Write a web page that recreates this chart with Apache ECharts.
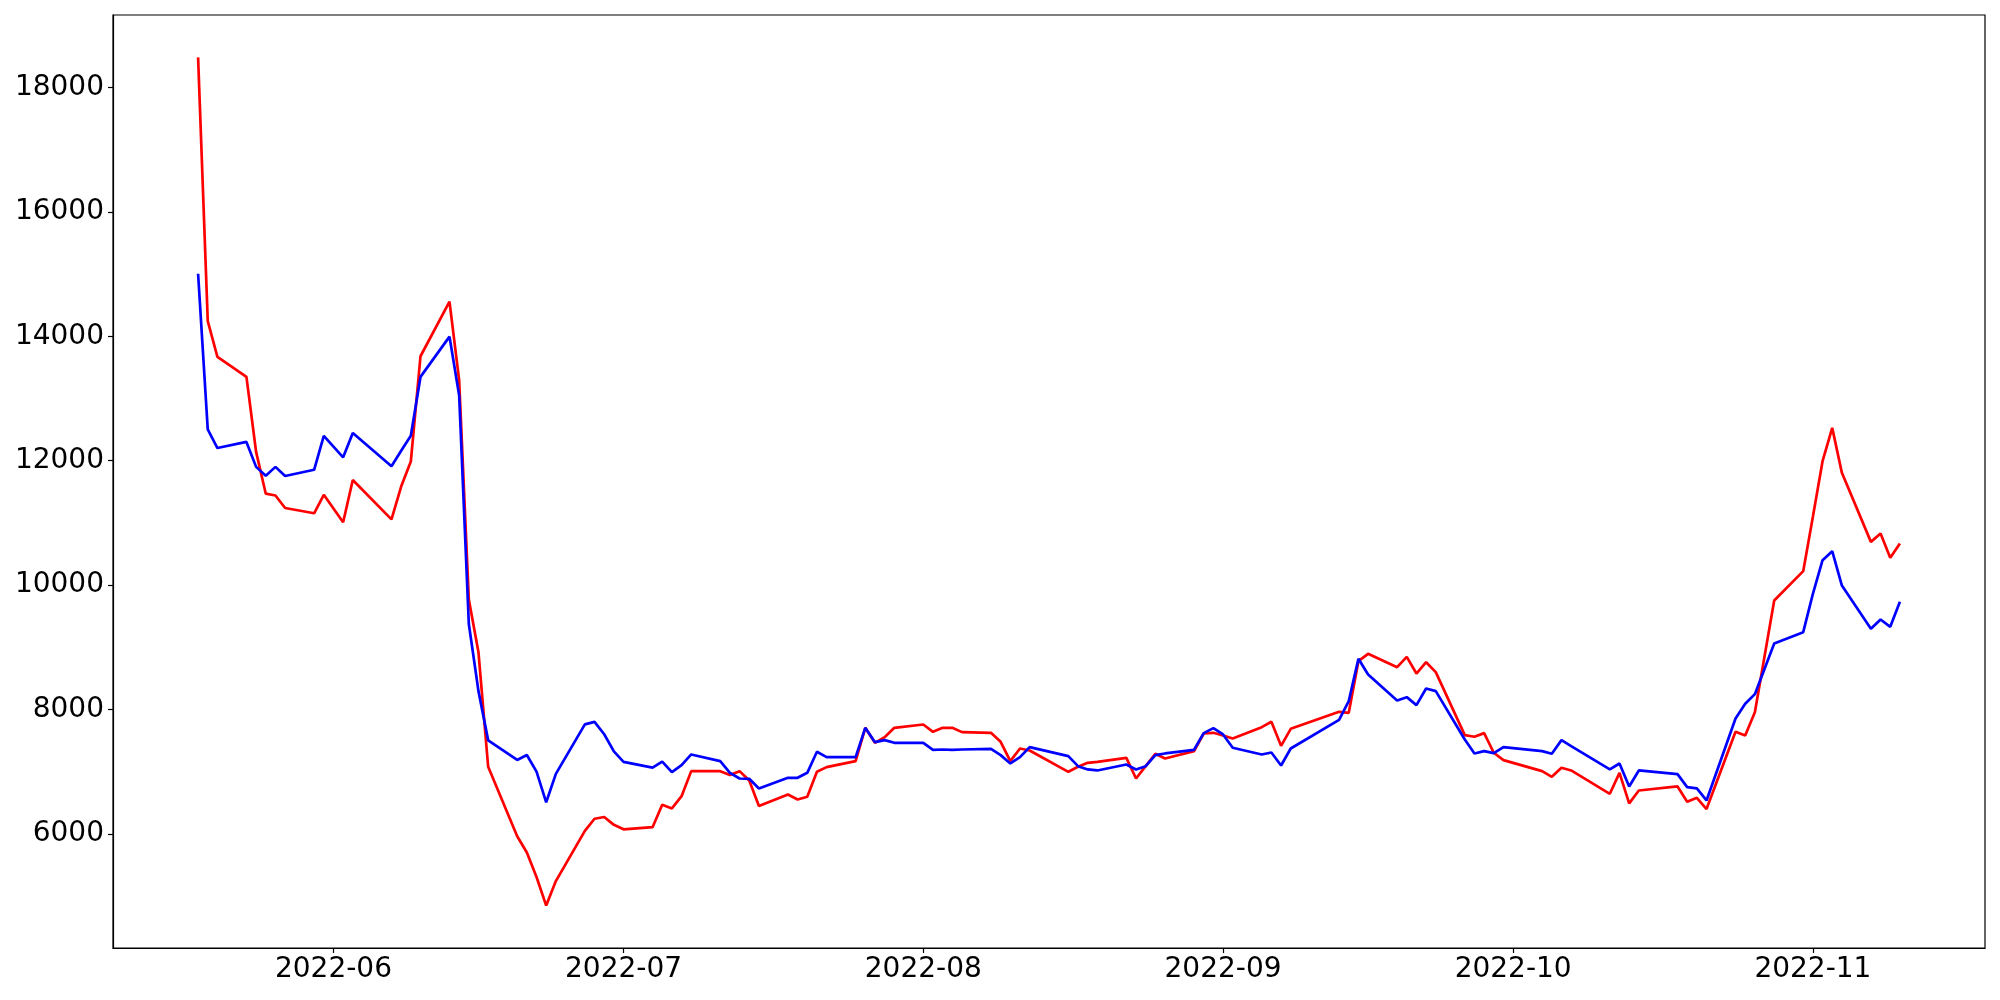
<!DOCTYPE html>
<html>
<head>
<meta charset="utf-8">
<script src="https://cdn.jsdelivr.net/npm/echarts@6/dist/echarts.min.js"></script>
<style>
html,body{margin:0;padding:0;background:#fff;}
#chart{width:2000px;height:1000px;}
</style>
</head>
<body>
<div id="chart"></div>
<script>
const dates = [
  '2022-05-18','2022-05-19','2022-05-20','2022-05-23','2022-05-24','2022-05-25','2022-05-26','2022-05-27','2022-05-30','2022-05-31',
  '2022-06-02','2022-06-03','2022-06-07','2022-06-08','2022-06-09','2022-06-10','2022-06-13','2022-06-14','2022-06-15','2022-06-16',
  '2022-06-17','2022-06-20','2022-06-21','2022-06-22','2022-06-23','2022-06-24','2022-06-27','2022-06-28','2022-06-29','2022-06-30',
  '2022-07-01','2022-07-04','2022-07-05','2022-07-06','2022-07-07','2022-07-08','2022-07-11','2022-07-12','2022-07-13','2022-07-14',
  '2022-07-15','2022-07-18','2022-07-19','2022-07-20','2022-07-21','2022-07-22','2022-07-25','2022-07-26','2022-07-27','2022-07-28',
  '2022-07-29','2022-08-01','2022-08-02','2022-08-03','2022-08-04','2022-08-05','2022-08-08','2022-08-09','2022-08-10','2022-08-11',
  '2022-08-12','2022-08-16','2022-08-17','2022-08-18','2022-08-19','2022-08-22','2022-08-23','2022-08-24','2022-08-25','2022-08-26',
  '2022-08-29','2022-08-30','2022-08-31','2022-09-01','2022-09-02','2022-09-05','2022-09-06','2022-09-07','2022-09-08','2022-09-13',
  '2022-09-14','2022-09-15','2022-09-16','2022-09-19','2022-09-20','2022-09-21','2022-09-22','2022-09-23','2022-09-26','2022-09-27',
  '2022-09-28','2022-09-29','2022-09-30','2022-10-04','2022-10-05','2022-10-06','2022-10-07','2022-10-11','2022-10-12','2022-10-13',
  '2022-10-14','2022-10-18','2022-10-19','2022-10-20','2022-10-21','2022-10-24','2022-10-25','2022-10-26','2022-10-28','2022-10-31',
  '2022-11-01','2022-11-02','2022-11-03','2022-11-04','2022-11-07','2022-11-08','2022-11-09','2022-11-10'
];
const redValues = [
  18482,14242,13668,13347,12142,11470,11441,11240,11155,11452,
  11010,11689,11057,11584,11986,13679,14557,13290,9768,8917,
  7080,5965,5703,5310,4850,5244,6050,6246,6274,6148,
  6076,6110,6470,6412,6608,7011,7011,6947,7011,6860,
  6449,6636,6556,6599,7000,7075,7172,7707,7466,7557,
  7707,7761,7643,7707,7707,7638,7627,7482,7172,7375,
  7343,7000,7081,7145,7161,7225,6893,7091,7290,7215,
  7332,7616,7627,7584,7536,7718,7804,7418,7691,7964,
  7948,8779,8896,8682,8848,8580,8762,8602,7590,7563,
  7622,7306,7188,7011,6920,7065,7022,6647,6984,6492,
  6700,6765,6518,6583,6401,7643,7584,7956,9753,10225,
  11100,11992,12528,11805,10696,10830,10439,10669
];
const blueValues = [
  15005,12503,12204,12302,11901,11758,11901,11755,11854,12400,
  12055,12445,11912,12159,12400,13347,13994,13048,9375,8293,
  7506,7191,7270,7002,6510,6968,7762,7802,7604,7329,
  7159,7067,7165,6995,7106,7279,7172,6984,6893,6888,
  6733,6904,6904,6984,7322,7236,7236,7707,7477,7509,
  7466,7466,7354,7359,7354,7359,7370,7268,7134,7236,
  7397,7252,7091,7038,7022,7118,7038,7091,7268,7295,
  7354,7622,7702,7600,7386,7279,7311,7102,7375,7836,
  8136,8816,8564,8147,8200,8072,8339,8297,7520,7295,
  7333,7300,7397,7333,7290,7509,7413,7038,7134,6765,
  7022,6963,6754,6733,6540,7857,8093,8248,9063,9245,
  9860,10401,10546,9994,9298,9448,9330,9732
];
const monthTicks = ['2022-06-01','2022-07-01','2022-08-01','2022-09-01','2022-10-01','2022-11-01'];
const monthLabels = ['2022-06','2022-07','2022-08','2022-09','2022-10','2022-11'];
const yTicks = [6000, 8000, 10000, 12000, 14000, 16000, 18000];

function ts(s) { const p = s.split('-').map(Number); return Date.UTC(p[0], p[1] - 1, p[2]); }

const xs = dates.map(ts);
const span = xs[xs.length - 1] - xs[0];
const xMin = xs[0] - 0.05 * span;
const xMax = xs[xs.length - 1] + 0.05 * span;
const allV = redValues.concat(blueValues);
const vMin = Math.min.apply(null, allV), vMax = Math.max.apply(null, allV);
const yMin = vMin - 0.05 * (vMax - vMin);
const yMax = vMax + 0.05 * (vMax - vMin);
const tickTs = monthTicks.map(ts);

const font = { fontFamily: 'DejaVu Sans', fontSize: 28, color: '#000' };

const chart = echarts.init(document.getElementById('chart'), null, { renderer: 'canvas' });
chart.setOption({
  animation: false,
  backgroundColor: '#fff',
  grid: { left: 113, right: 15, top: 15, bottom: 52, show: true, borderColor: '#000', borderWidth: 1.2, backgroundColor: 'transparent' },
  xAxis: {
    type: 'value', min: xMin, max: xMax, scale: true,
    splitLine: { show: false },
    axisLine: { show: true, onZero: false, lineStyle: { color: '#000', width: 1.2 } },
    axisTick: { show: true, length: 5, lineStyle: { color: '#000', width: 1.2 }, customValues: tickTs },
    axisLabel: Object.assign({ margin: 8, customValues: tickTs, hideOverlap: false,
      formatter: function (v) { const i = tickTs.indexOf(v); return i >= 0 ? monthLabels[i] : ''; } }, font)
  },
  yAxis: {
    type: 'value', min: yMin, max: yMax, scale: true,
    splitLine: { show: false },
    axisLine: { show: true, onZero: false, lineStyle: { color: '#000', width: 1.2 } },
    axisTick: { show: true, length: 5, lineStyle: { color: '#000', width: 1.2 }, customValues: yTicks },
    axisLabel: Object.assign({ margin: 9, customValues: yTicks, formatter: function (v) { return String(v); } }, font)
  },
  series: [
    { type: 'line', data: xs.map((x, i) => [x, redValues[i]]), showSymbol: false, lineStyle: { color: '#ff0000', width: 2.7 }, itemStyle: { color: '#ff0000' } },
    { type: 'line', data: xs.map((x, i) => [x, blueValues[i]]), showSymbol: false, lineStyle: { color: '#0000ff', width: 2.7 }, itemStyle: { color: '#0000ff' } }
  ]
});
</script>
</body>
</html>
